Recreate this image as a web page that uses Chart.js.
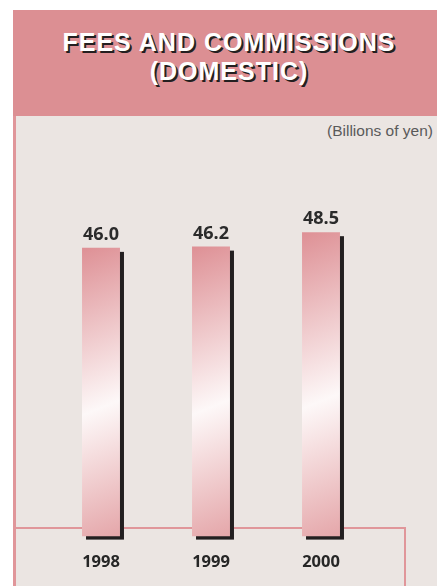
<!DOCTYPE html>
<html>
<head>
<meta charset="utf-8">
<script src="https://cdn.jsdelivr.net/npm/chart.js@4.4.1/dist/chart.umd.min.js"></script>
<style>
  html, body { margin: 0; padding: 0; background: #fff; overflow: hidden; }
  #page { position: relative; width: 437px; height: 586px; overflow: hidden; }
  #panel { position: absolute; left: 13px; top: 116px; width: 424px; height: 470px;
           background: #ebe5e2; border-left: 3px solid #e0969a; box-sizing: border-box; }
  #header { position: absolute; left: 13px; top: 10px; width: 424px; height: 106px; background: #dc8f93; }
  #header h1 { margin: 0; padding-top: 18px; padding-left: 8px; text-align: center;
               font: bold 25px/29px "Liberation Sans", Arial, sans-serif; letter-spacing: 1px;
               color: #fff; text-shadow: 2px 2px 0 #231f20; }
  #unit { position: absolute; right: 4px; top: 122px; font: 15.5px "Liberation Sans", Arial, sans-serif; color: #5a5a5a; }
  .line { position: absolute; background: #e0969a; }
  canvas { position: absolute; left: 0; top: 0; }
</style>
</head>
<body>
<div id="page">
  <div id="header"><h1>FEES AND COMMISSIONS<br>(DOMESTIC)</h1></div>
  <div id="panel"></div>
  <div class="line" style="left:13px; top:527px; width:393px; height:2px;"></div>
  <div class="line" style="left:404px; top:527px; width:2px; height:60px;"></div>
  <div id="unit">(Billions of yen)</div>
  <canvas id="chart" width="437" height="600"></canvas>
</div>
<script>
var years = ['1998', '1999', '2000'];
var fees = [46.0, 46.2, 48.5];
var yMax = 60;

// bar fill: pink at both ends, white band in the middle, slightly tilted
function barFill(context) {
  var chart = context.chart;
  if (!chart.chartArea || context.dataIndex === undefined) return '#e29a9e';
  var x = chart.scales.x, y = chart.scales.y;
  var cx = x.getPixelForValue(context.dataIndex);
  var top = y.getPixelForValue(context.raw), bottom = y.getPixelForValue(0);
  var left = cx - 19, h = bottom - top;
  var g = chart.ctx.createLinearGradient(left, top, left + 0.4 * h, bottom);
  g.addColorStop(0, '#de9095');
  g.addColorStop(0.5, '#fdf8f8');
  g.addColorStop(1, '#df9397');
  return g;
}

var barShadow = {
  id: 'barShadow',
  beforeDatasetsDraw: function(chart) {
    var ctx = chart.ctx;
    ctx.save();
    ctx.fillStyle = '#231f20';
    chart.getDatasetMeta(0).data.forEach(function(bar) {
      var w = bar.width;
      ctx.fillRect(bar.x - w / 2 + 4, bar.y + 4, w, bar.base - bar.y - 1);
    });
    ctx.restore();
  }
};

var valueLabels = {
  id: 'valueLabels',
  afterDatasetsDraw: function(chart) {
    var ctx = chart.ctx;
    ctx.save();
    ctx.font = 'bold 18px "Open Sans", sans-serif';
    ctx.fillStyle = '#2b2b2b';
    ctx.textAlign = 'center';
    ctx.textBaseline = 'alphabetic';
    chart.getDatasetMeta(0).data.forEach(function(bar, i) {
      ctx.fillText(fees[i].toFixed(1), bar.x, bar.y - 8);
    });
    ctx.restore();
  }
};

new Chart(document.getElementById('chart').getContext('2d'), {
  type: 'bar',
  data: {
    labels: years,
    datasets: [{
      data: fees,
      backgroundColor: barFill,
      borderWidth: 0,
      barPercentage: 0.345,
      categoryPercentage: 1
    }]
  },
  options: {
    responsive: false,
    animation: false,
    layout: { padding: { left: 46, right: 61, top: 160, bottom: 11.6 } },
    plugins: { legend: { display: false }, tooltip: { enabled: false } },
    scales: {
      x: {
        grid: { display: false, drawTicks: false },
        border: { display: false },
        ticks: {
          padding: 16,
          color: '#262626',
          font: { family: '"Open Sans", sans-serif', size: 16.5, weight: 'bold', lineHeight: 1.2 }
        }
      },
      y: { display: false, min: 0, max: yMax }
    }
  },
  plugins: [barShadow, valueLabels]
});
</script>
</body>
</html>
